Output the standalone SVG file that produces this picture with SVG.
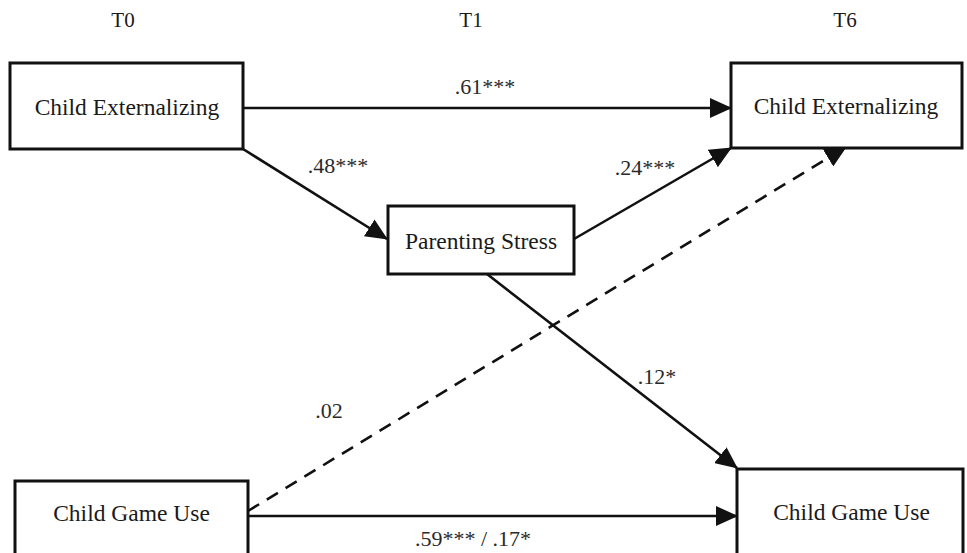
<svg xmlns="http://www.w3.org/2000/svg" width="967" height="553" viewBox="0 0 967 553">
<style>
.box{fill:#fff;stroke:#111;stroke-width:3}
.nt{font-family:"Liberation Serif","Times New Roman",serif;font-size:23.5px;fill:#1a1a1a;text-anchor:middle}
.lb{font-family:"Liberation Serif","Times New Roman",serif;font-size:22px;fill:#2a2a2a;text-anchor:middle}
.tt{font-family:"Liberation Serif","Times New Roman",serif;font-size:21px;fill:#1a1a1a;text-anchor:middle}
.ln{stroke:#111;stroke-width:2.6;fill:none;marker-end:url(#ah)}
.dash{stroke-dasharray:13 9}
</style>
<defs>
<marker id="ah" markerUnits="userSpaceOnUse" markerWidth="22" markerHeight="20" refX="21" refY="10" orient="auto" viewBox="0 0 22 20">
<path d="M0,0 L22,10 L0,20 Z" fill="#111"/>
</marker>
</defs>
<g id="titles">
<text class="tt" x="123" y="27">T0</text>
<text class="tt" x="471" y="27">T1</text>
<text class="tt" x="845" y="27">T6</text>
</g>
<g id="connectors">
<line class="ln" x1="243" y1="108" x2="731" y2="108"/>
<line class="ln" x1="243" y1="149" x2="387" y2="239"/>
<line class="ln" x1="574" y1="239" x2="731" y2="148"/>
<line class="ln dash" x1="248" y1="511" x2="846" y2="147"/>
<line class="ln" x1="487" y1="274" x2="737" y2="468"/>
<line class="ln" x1="248" y1="516" x2="737" y2="516"/>
</g>
<g id="labels">
<text class="lb" x="485" y="94">.61***</text>
<text class="lb" x="338" y="173">.48***</text>
<text class="lb" x="645" y="175">.24***</text>
<text class="lb" x="329" y="418">.02</text>
<text class="lb" x="657" y="384">.12*</text>
<text class="lb" x="473" y="546">.59*** / .17*</text>
</g>
<g id="node-t0-ext">
<rect class="box" x="10" y="63" width="233" height="86"/>
<text class="nt" x="127" y="115">Child Externalizing</text>
</g>
<g id="node-t6-ext">
<rect class="box" x="731" y="63" width="231" height="85"/>
<text class="nt" x="846" y="114">Child Externalizing</text>
</g>
<g id="node-t1-stress">
<rect class="box" x="388" y="206" width="186" height="68"/>
<text class="nt" x="481" y="249">Parenting Stress</text>
</g>
<g id="node-t0-game">
<rect class="box" x="15" y="481" width="233" height="90"/>
<text class="nt" x="131.5" y="521">Child Game Use</text>
</g>
<g id="node-t6-game">
<rect class="box" x="737" y="469" width="226" height="100"/>
<text class="nt" x="851.5" y="520">Child Game Use</text>
</g>
</svg>
